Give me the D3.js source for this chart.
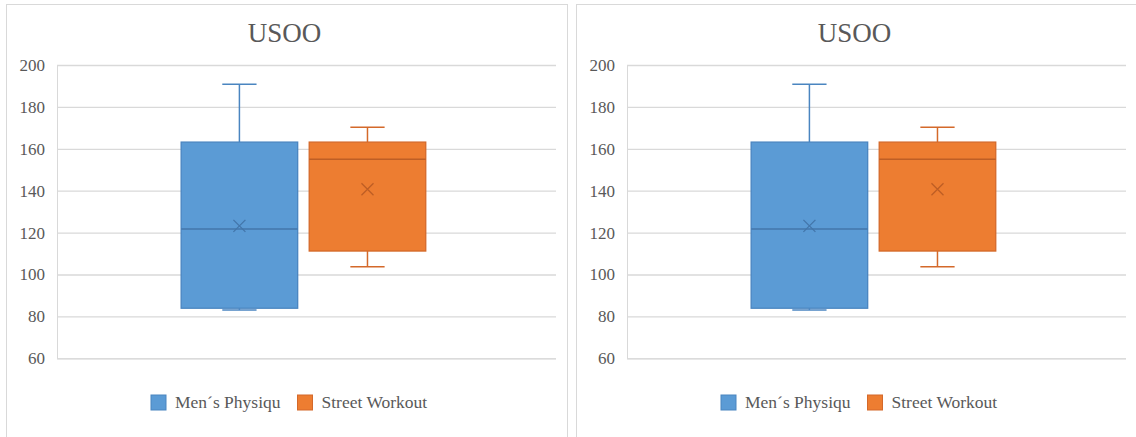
<!DOCTYPE html>
<html>
<head>
<meta charset="utf-8">
<script src="https://cdn.jsdelivr.net/npm/d3@7"></script>
<style>
  html, body { margin: 0; padding: 0; background: #ffffff; }
  svg { display: block; }
</style>
</head>
<body>
<svg id="chart" width="1136" height="437"></svg>
<script>
// Box-plot summaries for the two competition groups
const chartTitle = "USOO";
const seriesNames = ["Men´s Physiqu", "Street Workout"];
const whiskerLow  = [83.1, 103.7];
const quartile1   = [83.9, 111.2];
const medians     = [121.7, 155.0];
const quartile3   = [163.2, 163.2];
const whiskerHigh = [190.8, 170.3];
const means       = [123.2, 140.7];
const yTicks      = [60, 80, 100, 120, 140, 160, 180, 200];

const fills   = ["#5B9BD5", "#ED7D31"];
const strokes = ["#4A85C0", "#D4692A"];
const darkLines = ["#4376AA", "#BE5E25"];
const FONT = "Tinos, 'Times New Roman', Times, 'Liberation Serif', 'Noto Serif', 'DejaVu Serif', 'Nimbus Roman', 'FreeSerif', serif";

const svg = d3.select("#chart");

const boxes = seriesNames.map((name, i) => ({
  name, i,
  lo: whiskerLow[i], q1: quartile1[i], med: medians[i],
  q3: quartile3[i], hi: whiskerHigh[i], mean: means[i]
}));

function drawPanel(offsetX) {
  const g = svg.append("g").attr("transform", `translate(${offsetX},0)`);

  // panel frame
  g.append("rect")
    .attr("x", 6.5).attr("y", 4.5)
    .attr("width", 561).attr("height", 440)
    .attr("fill", "#ffffff")
    .attr("stroke", "#d9d9d9").attr("stroke-width", 1);

  const plotLeft = 57, plotRight = 556;
  const y = d3.scaleLinear().domain([60, 200]).range([358.3, 65]);

  // one category, two series side by side
  const x0 = d3.scaleBand().domain(["group"]).range([plotLeft, plotRight])
    .paddingOuter(0.52).align(0.488);
  const x1 = d3.scaleBand().domain(seriesNames).range([0, x0.bandwidth()])
    .paddingInner(0.09);

  // title
  g.append("text")
    .attr("x", 284.5).attr("y", 42)
    .attr("text-anchor", "middle")
    .style("font-family", FONT)
    .style("font-size", "27px")
    .attr("fill", "#595959")
    .text(chartTitle);

  // gridlines + y axis labels
  const axis = d3.axisLeft(y).tickValues(yTicks)
    .tickSize(-(plotRight - plotLeft)).tickPadding(12).tickFormat(d3.format("d"));
  const ag = g.append("g").attr("transform", `translate(${plotLeft},0)`).call(axis);
  ag.select(".domain").attr("stroke", "#d9d9d9").attr("stroke-width", 1);
  ag.selectAll(".tick line").attr("stroke", "#d9d9d9").attr("stroke-width", 1.3);
  ag.selectAll(".tick text").attr("fill", "#595959")
    .style("font-family", FONT).style("font-size", "17px");

  const bg = g.append("g")
    .attr("transform", `translate(${x0("group")},0)`);

  const box = bg.selectAll("g.box").data(boxes).join("g")
    .attr("class", "box")
    .attr("transform", d => `translate(${x1(d.name)},0)`);

  const bw = x1.bandwidth();
  const capHalf = bw * 0.147;

  // whiskers
  box.append("line")
    .attr("x1", bw / 2).attr("x2", bw / 2)
    .attr("y1", d => y(d.hi)).attr("y2", d => y(d.q3))
    .attr("stroke", d => strokes[d.i]).attr("stroke-width", 1.5);
  box.append("line")
    .attr("x1", bw / 2).attr("x2", bw / 2)
    .attr("y1", d => y(d.q1)).attr("y2", d => y(d.lo))
    .attr("stroke", d => strokes[d.i]).attr("stroke-width", 1.5);
  box.append("line")
    .attr("x1", bw / 2 - capHalf).attr("x2", bw / 2 + capHalf)
    .attr("y1", d => y(d.hi)).attr("y2", d => y(d.hi))
    .attr("stroke", d => strokes[d.i]).attr("stroke-width", 1.5);
  box.append("line")
    .attr("x1", bw / 2 - capHalf).attr("x2", bw / 2 + capHalf)
    .attr("y1", d => y(d.lo)).attr("y2", d => y(d.lo))
    .attr("stroke", d => strokes[d.i]).attr("stroke-width", 1.5);

  // interquartile box
  box.append("rect")
    .attr("x", 0).attr("width", bw)
    .attr("y", d => y(d.q3)).attr("height", d => y(d.q1) - y(d.q3))
    .attr("fill", d => fills[d.i])
    .attr("stroke", d => strokes[d.i]).attr("stroke-width", 1.3);

  // median
  box.append("line")
    .attr("x1", 0).attr("x2", bw)
    .attr("y1", d => y(d.med)).attr("y2", d => y(d.med))
    .attr("stroke", d => darkLines[d.i]).attr("stroke-width", 1.5);

  // mean marker (x)
  const m = 6;
  box.append("path")
    .attr("d", d => {
      const cx = bw / 2, cy = y(d.mean);
      return `M${cx - m},${cy - m}L${cx + m},${cy + m}M${cx - m},${cy + m}L${cx + m},${cy - m}`;
    })
    .attr("fill", "none")
    .attr("stroke", d => darkLines[d.i]).attr("stroke-width", 1.3);

  // legend
  const legendItems = [
    { name: seriesNames[0], i: 0, x: 151 },
    { name: seriesNames[1], i: 1, x: 297.5 }
  ];
  const lg = g.selectAll("g.legend").data(legendItems).join("g")
    .attr("class", "legend")
    .attr("transform", d => `translate(${d.x},395)`);
  lg.append("rect")
    .attr("width", 15).attr("height", 15)
    .attr("fill", d => fills[d.i])
    .attr("stroke", d => strokes[d.i]).attr("stroke-width", 1);
  lg.append("text")
    .attr("x", 24).attr("y", 13.3)
    .style("font-family", FONT)
    .style("font-size", "17.5px")
    .attr("fill", "#595959")
    .text(d => d.name);
}

drawPanel(0);
drawPanel(570);
</script>
</body>
</html>
